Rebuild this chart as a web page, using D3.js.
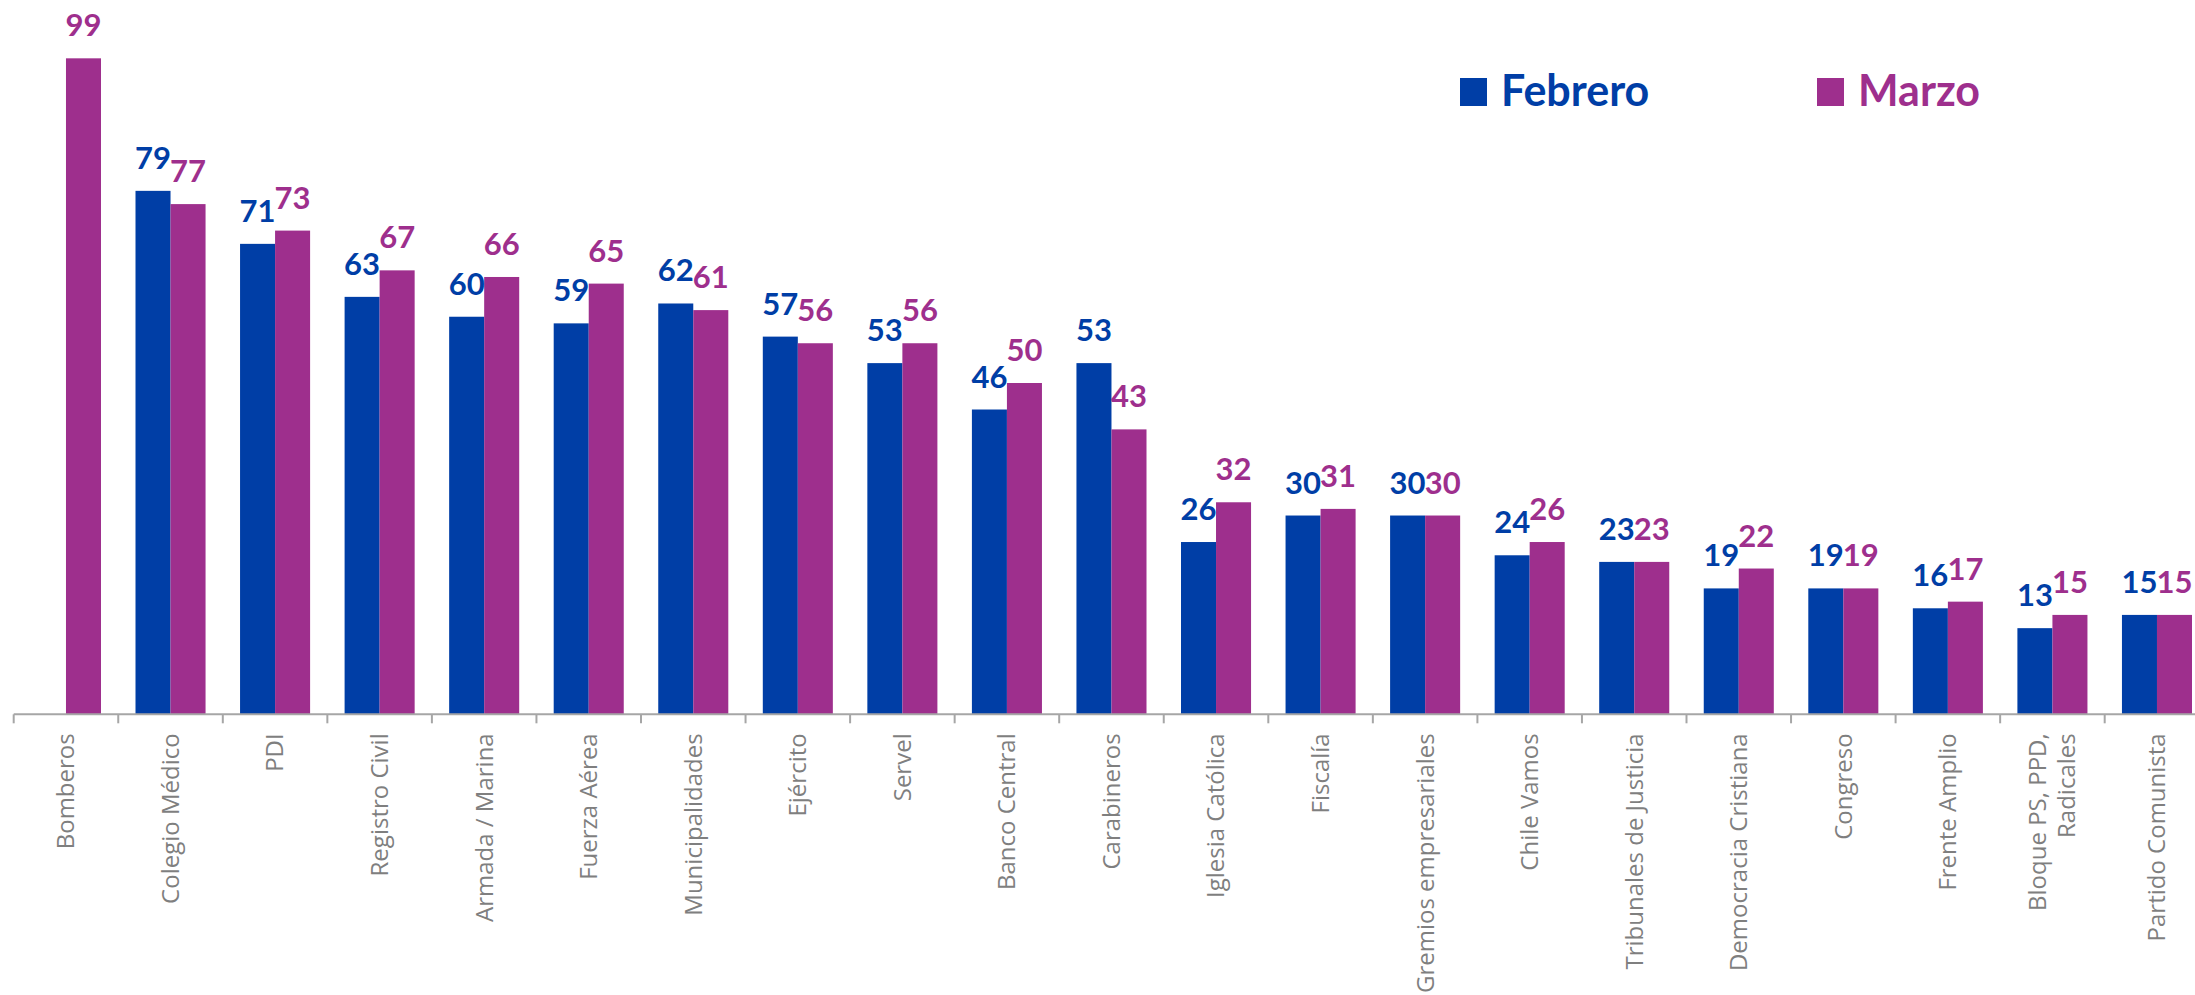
<!DOCTYPE html>
<html>
<head>
<meta charset="utf-8">
<script src="https://cdn.jsdelivr.net/npm/d3@7"></script>
<style>
  body { margin: 0; background: #fff; }
  svg { display: block; }
</style>
</head>
<body>
<svg class="chart"></svg>
<script>
// Datos
var categorias = ["Bomberos", "Colegio Médico", "PDI", "Registro Civil", "Armada / Marina",
    "Fuerza Aérea", "Municipalidades", "Ejército", "Servel", "Banco Central", "Carabineros",
    "Iglesia Católica", "Fiscalía", "Gremios empresariales", "Chile Vamos",
    "Tribunales de Justicia", "Democracia Cristiana", "Congreso", "Frente Amplio",
    "Bloque PS, PPD,|Radicales", "Partido Comunista"];
var febrero = [null, 79, 71, 63, 60, 59, 62, 57, 53, 46, 53, 26, 30, 30, 24, 23, 19, 19, 16, 13, 15];
var marzo = [99, 77, 73, 67, 66, 65, 61, 56, 56, 50, 43, 32, 31, 30, 26, 23, 22, 19, 17, 15, 15];
var series = ["Febrero", "Marzo"];
var colores = ["#003EA6", "#9E2F8D"];

var width = 2195, height = 995;

var svg = d3.select(".chart")
    .attr("width", width)
    .attr("height", height);

// Escalas
var x0 = d3.scaleBand()
    .domain(categorias)
    .range([13.7, 13.7 + 21 * 104.55])
    .padding(0);

var x1 = d3.scaleBand()
    .domain(series)
    .range([x0.bandwidth() * 0.165, x0.bandwidth() * 0.835])
    .padding(0);

var y = d3.scaleLinear()
    .domain([0, 100])
    .range([714.3, 51.7]);

var color = d3.scaleOrdinal().domain(series).range(colores);

var filas = categorias.map(function(c, i) {
    return { cat: c, valores: [
        { serie: "Febrero", value: febrero[i] },
        { serie: "Marzo", value: marzo[i] }
    ].filter(function(d) { return d.value != null; }) };
});

var grupos = svg.selectAll(".grupo")
    .data(filas)
  .enter().append("g")
    .attr("class", "grupo")
    .attr("transform", function(d) { return "translate(" + x0(d.cat) + ",0)"; });

grupos.selectAll("rect")
    .data(function(d) { return d.valores; })
  .enter().append("rect")
    .attr("x", function(d) { return x1(d.serie); })
    .attr("width", x1.bandwidth())
    .attr("y", function(d) { return y(d.value); })
    .attr("height", function(d) { return y(0) - y(d.value); })
    .attr("fill", function(d) { return color(d.serie); });

grupos.selectAll("text.valor")
    .data(function(d) { return d.valores; })
  .enter().append("text")
    .attr("class", "valor")
    .attr("x", function(d) { return x1(d.serie) + x1.bandwidth() / 2; })
    .attr("y", function(d) { return y(d.value) - 22; })
    .attr("text-anchor", "middle")
    .attr("font-family", "Lato, sans-serif")
    .attr("font-weight", "bold")
    .attr("font-size", 31)
    .attr("fill", function(d) { return color(d.serie); })
    .text(function(d) { return d.value; });

// Eje X
var ejeX = svg.append("g")
    .attr("class", "x-axis")
    .attr("transform", "translate(0," + y(0) + ")");

ejeX.append("line")
    .attr("x1", x0.range()[0])
    .attr("x2", x0.range()[1])
    .attr("stroke", "#A6A6A6")
    .attr("stroke-width", 2);

ejeX.selectAll(".tick")
    .data(categorias)
  .enter().append("line")
    .attr("class", "tick")
    .attr("x1", function(d) { return x0(d); })
    .attr("x2", function(d) { return x0(d); })
    .attr("y1", 0)
    .attr("y2", 9)
    .attr("stroke", "#A6A6A6")
    .attr("stroke-width", 2);

var etiquetas = ejeX.selectAll(".etiqueta")
    .data(categorias)
  .enter().append("text")
    .attr("class", "etiqueta")
    .attr("transform", function(d) {
        return "translate(" + (x0(d) + x0.bandwidth() / 2) + ",19) rotate(-90)";
    })
    .attr("text-anchor", "end")
    .attr("font-family", "'Open Sans', sans-serif")
    .attr("font-size", 24)
    .attr("fill", "#7F7F7F");

etiquetas.each(function(d) {
    var lineas = d.split("|");
    var t = d3.select(this);
    lineas.forEach(function(l, i) {
        t.append("tspan")
            .attr("x", 0)
            .attr("dy", i === 0 ? (0.35 - (lineas.length - 1) * 0.6) + "em" : "1.2em")
            .text(l);
    });
});

// Leyenda
var leyendaX = [1460, 1817];
var leyenda = svg.selectAll(".leyenda")
    .data(series)
  .enter().append("g")
    .attr("class", "leyenda")
    .attr("transform", function(d, i) { return "translate(" + leyendaX[i] + ",78)"; });

leyenda.append("rect")
    .attr("width", 27)
    .attr("height", 28)
    .attr("fill", function(d) { return color(d); });

leyenda.append("text")
    .attr("x", 41)
    .attr("y", 28)
    .attr("font-family", "Lato, sans-serif")
    .attr("font-weight", "bold")
    .attr("font-size", 43)
    .attr("fill", function(d) { return color(d); })
    .text(function(d) { return d; });
</script>
</body>
</html>
